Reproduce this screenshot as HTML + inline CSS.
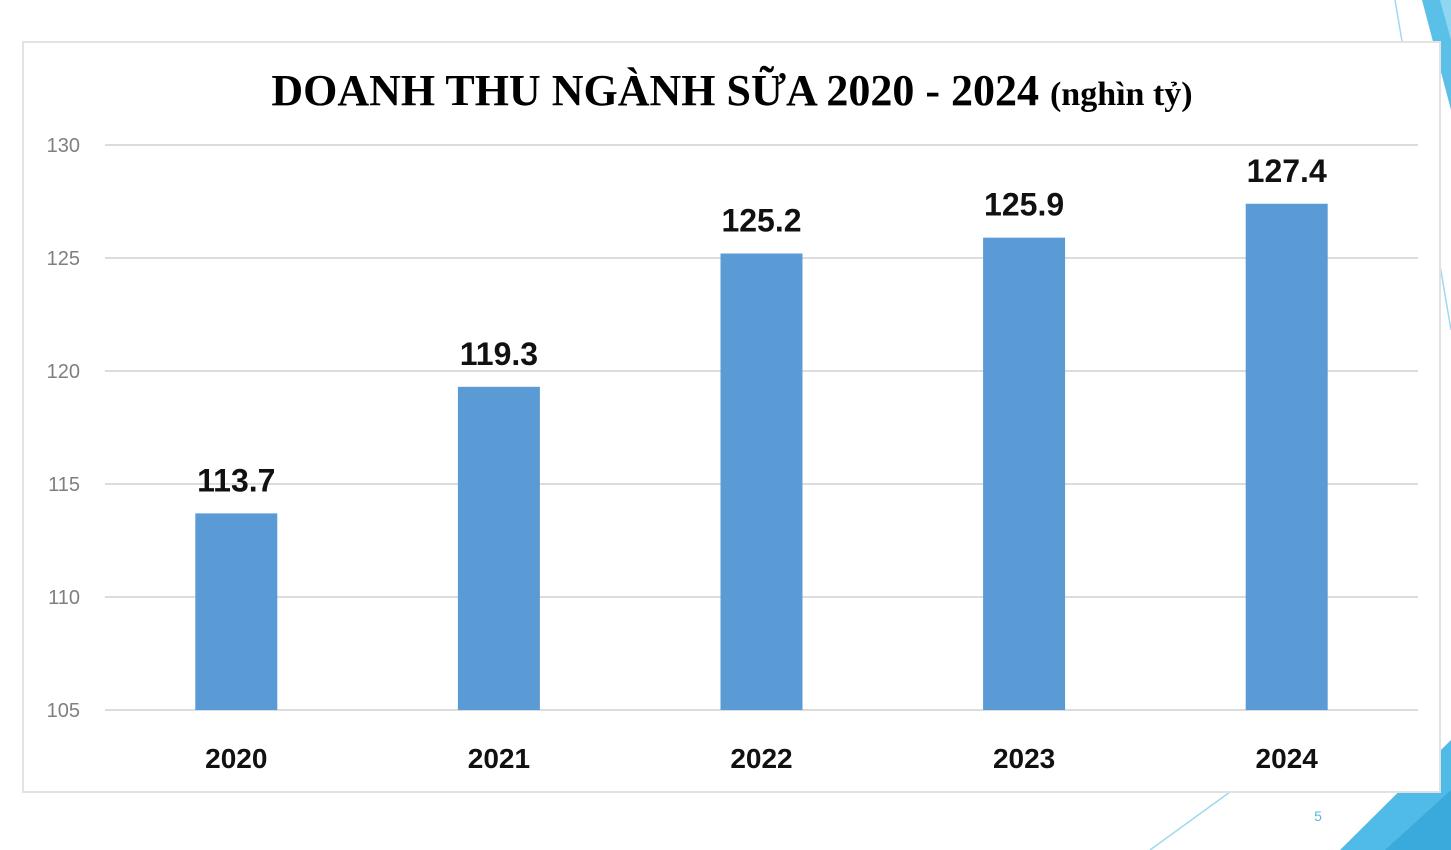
<!DOCTYPE html>
<html><head><meta charset="utf-8"><style>
html,body{margin:0;padding:0;background:#fff;width:1451px;height:850px;overflow:hidden;font-family:"Liberation Sans",sans-serif}
</style></head><body>
<svg width="1451" height="850" viewBox="0 0 1451 850">
<g>
<polygon points="1422,0 1451,0 1451,110" fill="#5bc0e8"/>
<polygon points="1440,0 1451,0 1451,40" fill="#8fd6f0"/>
<polygon points="1340,850 1451,850 1451,740" fill="#4fbbe6"/>
<polygon points="1385,850 1451,850 1451,790" fill="#3aa9dc"/>
<line x1="1395" y1="0" x2="1451" y2="330" stroke="#9fd9ef" stroke-width="1.5"/>
<line x1="1150" y1="850" x2="1230" y2="792" stroke="#9fd9ef" stroke-width="1.5"/>
<text x="1318" y="821" font-size="14" fill="#5bb8e0" text-anchor="middle">5</text>
</g>
<rect x="23" y="42" width="1417" height="750" fill="#fff" stroke="#e2e2e2" stroke-width="2"/>
<text x="732" y="105" text-anchor="middle" font-family="'Liberation Serif',serif" font-weight="bold" fill="#000"><tspan font-size="44">DOANH THU NGÀNH SỮA 2020 - 2024 </tspan><tspan font-size="34">(nghìn tỷ)</tspan></text>
<g id="grid"></g>
<g id="yaxis"></g>
<g id="bars"></g>
<g id="xaxis"></g>
</svg>
<script>
const categories=["2020","2021","2022","2023","2024"];
const values=[113.7,119.3,125.2,125.9,127.4];
const yTicks=[105,110,115,120,125,130];
const NS="http://www.w3.org/2000/svg";
const x0=105,x1=1418,yTop=145,yBot=710,ymin=105,ymax=130;
const y=v=>yBot-(v-ymin)/(ymax-ymin)*(yBot-yTop);
const bw=(x1-x0)/categories.length;
const xc=i=>x0+bw*(i+0.5);
function mk(t,a,p){const e=document.createElementNS(NS,t);for(const k in a)e.setAttribute(k,a[k]);p.appendChild(e);return e;}
const grid=document.getElementById('grid'),ya=document.getElementById('yaxis'),bars=document.getElementById('bars'),xa=document.getElementById('xaxis');
yTicks.forEach(t=>{
 const l=mk('line',{x1:x0,x2:x1,y1:y(t),y2:y(t),stroke:'#dcdcdc','stroke-width':2},grid);
 
 
 const tx=mk('text',{x:80,y:y(t)+7,'text-anchor':'end','font-size':20,fill:'#7f7f7f'},ya);
 tx.textContent=t;
 
 
});
categories.forEach((c,i)=>{
 const r=mk('rect',{x:xc(i)-41,y:y(values[i]),width:82,height:yBot-y(values[i]),fill:'#5b9bd5'},bars);
 
 
 const lb=mk('text',{x:xc(i),y:y(values[i])-22,'text-anchor':'middle','font-size':32,'font-weight':'bold',fill:'#111'},bars);
 lb.textContent=values[i];
 
 
 const xl=mk('text',{x:xc(i),y:768,'text-anchor':'middle','font-size':28,'font-weight':'bold',fill:'#111'},xa);
 xl.textContent=c;
 
 
});
</script>
</body></html>
